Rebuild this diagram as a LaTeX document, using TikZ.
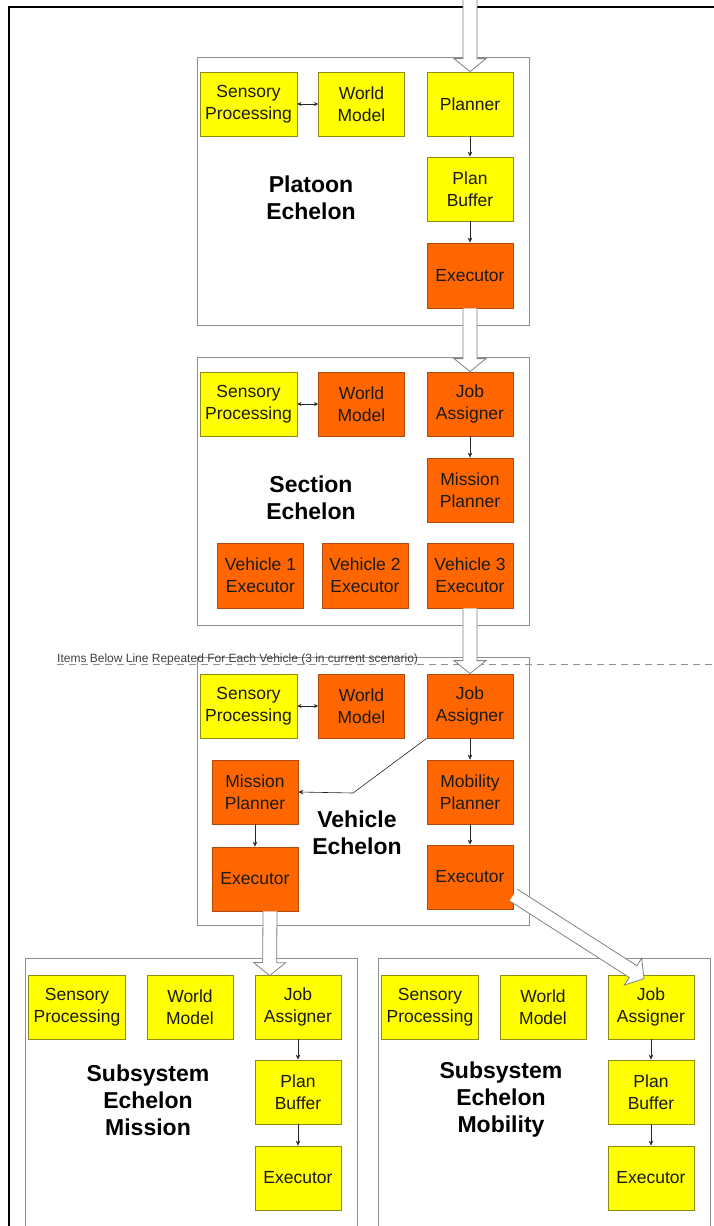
\documentclass[tikz,border=0pt]{standalone}
\usepackage{fontspec}
\setmainfont{Liberation Sans}
\usetikzlibrary{calc,arrows.meta}
\definecolor{yel}{HTML}{FFFF00}
\definecolor{yelb}{HTML}{8C8C10}
\definecolor{org}{HTML}{FF6600}
\definecolor{orgb}{HTML}{B04A10}
\definecolor{frm}{HTML}{909090}
\definecolor{txt}{HTML}{1A1A1A}
\tikzset{
  box/.style={rectangle, minimum width=86pt, minimum height=64pt, inner sep=1pt, align=center,
    text=txt, font=\fontsize{17.5}{22}\selectfont, line width=0.8pt},
  ybox/.style={box, fill=yel, draw=yelb},
  obox/.style={box, fill=org, draw=orgb},
  wide/.style={minimum width=97pt},
  tall/.style={minimum height=65pt},
  frame/.style={draw=frm, line width=0.8pt},
  ech/.style={align=center, font=\bfseries\fontsize{23}{27}\selectfont, text=black},
  sm/.style={draw=black!85, line width=0.6pt, -{Stealth[length=5pt,width=4.5pt]}},
  smb/.style={draw=black!85, line width=0.6pt, {Stealth[length=4pt,width=4pt]}-{Stealth[length=4pt,width=4pt]}},
  fatline/.style={draw=frm!90!black, line width=0.8pt, line join=miter}
}
\newcommand\fatarrow[2]{%
  \path let \p1=(#1), \p2=(#2), \n1={atan2(\y2-\y1,\x2-\x1)}, \n2={\n1+90}, \n3={\n1-90} in
    coordinate (fa) at ($(\p1)+(\n2:7pt)$)
    coordinate (fb) at ($(\p2)!13pt!(\p1)+(\n2:7pt)$)
    coordinate (fc) at ($(\p2)!13pt!(\p1)+(\n2:16pt)$)
    coordinate (fd) at (\p2)
    coordinate (fe) at ($(\p2)!13pt!(\p1)+(\n3:16pt)$)
    coordinate (ff) at ($(\p2)!13pt!(\p1)+(\n3:7pt)$)
    coordinate (fg) at ($(\p1)+(\n3:7pt)$);
  \fill[white] (fa) -- (fb) -- (fc) -- (fd) -- (fe) -- (ff) -- (fg) -- cycle;
  \draw[fatline] (fa) -- (fb) -- (fc) -- (fd) -- (fe) -- (ff) -- (fg);
}
\begin{document}
\begin{tikzpicture}[x=1pt,y=-1pt]
\useasboundingbox (0,0) rectangle (714,1226);
\fill[white] (0,0) rectangle (714,1226);
% outer border
\draw[black, line width=2pt] (9,1226) -- (9,7) -- (714,7);

% containers
\draw[frame] (197,57) rectangle (529,325);
\draw[frame] (197,357) rectangle (529,625);
\draw[frame] (197,657) rectangle (529,925);
\draw[frame] (25,1230) -- (25,958) -- (357,958) -- (357,1230);
\draw[frame] (378,1230) -- (378,958) -- (710,958) -- (710,1230);

% Platoon
\node[ybox, wide] (psp) at (248.5,104) {Sensory\\Processing};
\node[ybox] (pwm) at (361.5,104) {World\\Model};
\node[ybox] (ppl) at (470,104) {Planner};
\node[ybox] (ppb) at (470,189) {Plan\\Buffer};
\node[obox, tall] (pex) at (470,275.5) {Executor};
\node[ech] (plab) at (311,198) {Platoon\\Echelon};

% Section
\node[ybox, wide] (ssp) at (248.5,404) {Sensory\\Processing};
\node[obox] (swm) at (361.5,404) {World\\Model};
\node[obox] (sja) at (470,404) {Job\\Assigner};
\node[obox] (smp) at (470,490) {Mission\\Planner};
\node[obox, tall] (sv1) at (260.5,575.5) {Vehicle 1\\Executor};
\node[obox, tall] (sv2) at (365,575.5) {Vehicle 2\\Executor};
\node[obox, tall] (sv3) at (470,575.5) {Vehicle 3\\Executor};
\node[ech] (slab) at (311,498) {Section\\Echelon};

% separator
\draw[frm, line width=0.8pt, dash pattern=on 7pt off 5pt] (57,664) -- (714,664);
\node[anchor=base west, inner sep=0pt, text=black!75, font=\fontsize{12}{14}\selectfont] (itm) at (57,662) {Items Below Line Repeated For Each Vehicle (3 in current scenario)};

% Vehicle
\node[ybox, wide] (vsp) at (248.5,706) {Sensory\\Processing};
\node[obox] (vwm) at (361.5,706) {World\\Model};
\node[obox] (vja) at (470,706) {Job\\Assigner};
\node[obox] (vmp) at (255,792) {Mission\\Planner};
\node[obox] (vmo) at (470,792) {Mobility\\Planner};
\node[obox] (vexl) at (255,879) {Executor};
\node[obox] (vexr) at (470,877) {Executor};
\node[ech] (vlab) at (357,833) {Vehicle\\Echelon};

% Subsystem Mission
\node[ybox, wide] (msp) at (77,1007) {Sensory\\Processing};
\node[ybox] (mwm) at (190,1007) {World\\Model};
\node[ybox] (mja) at (298,1007) {Job\\Assigner};
\node[ybox] (mpb) at (298,1092) {Plan\\Buffer};
\node[ybox] (mex) at (298,1178) {Executor};
\node[ech] (mlab) at (148,1100) {Subsystem\\Echelon\\Mission};

% Subsystem Mobility
\node[ybox, wide] (bsp) at (430,1007) {Sensory\\Processing};
\node[ybox] (bwm) at (543,1007) {World\\Model};
\node[ybox] (bja) at (651,1007) {Job\\Assigner};
\node[ybox] (bpb) at (651,1092) {Plan\\Buffer};
\node[ybox] (bex) at (651,1178) {Executor};
\node[ech] (blab) at (501,1100) {Subsystem\\Echelon\\Mobility};

% small arrows
\draw[smb] (psp) -- (pwm);
\draw[sm] (ppl) -- (ppb);
\draw[sm] (ppb) -- (pex);
\draw[smb] (ssp) -- (swm);
\draw[sm] (sja) -- (smp);
\draw[smb] (vsp) -- (vwm);
\draw[sm] (vja) -- (vmo);
\draw[sm] (vmo) -- (vexr);
\draw[sm] (vmp) -- (vexl);
\draw[sm] (vja.south west) -- (353,793) -- (vmp.east);
\draw[sm] (mja) -- (mpb);
\draw[sm] (mpb) -- (mex);
\draw[sm] (bja) -- (bpb);
\draw[sm] (bpb) -- (bex);

% fat arrows
\coordinate (t0) at (470,-5);
\fatarrow{t0}{ppl.north}
\fatarrow{pex.south}{sja.north}
\fatarrow{sv3.south}{vja.north}
\coordinate (la1) at ($(vexl.south)+(15,0)$);
\coordinate (la2) at ($(mja.north west)+(15,1)$);
\fatarrow{la1}{la2}
\coordinate (da1) at ($(vexr.east)+(0,18)$);
\coordinate (da2) at ($(bja.north)+(-7,4)$);
\fatarrow{da1}{da2}
\end{tikzpicture}
\end{document}
